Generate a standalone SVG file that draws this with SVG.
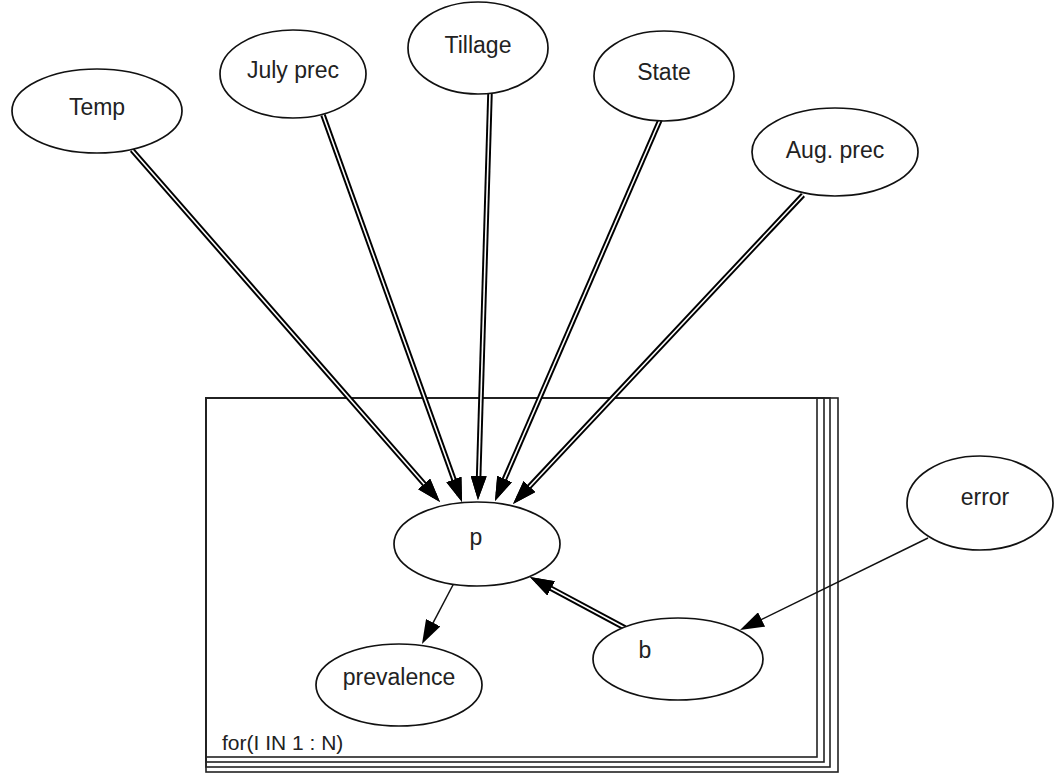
<svg xmlns="http://www.w3.org/2000/svg" width="1063" height="774" viewBox="0 0 1063 774">
<style>
.n ellipse{fill:#fff;stroke:#111;stroke-width:1.7}
text{font-family:"Liberation Sans",Arial,sans-serif;font-size:23px;fill:#222;text-anchor:middle;dominant-baseline:central}
.dbl{stroke:#000;stroke-width:5.5;fill:none}
.inner{stroke:#fff;stroke-width:1.6;fill:none}
.thin{stroke:#111;stroke-width:1.5;fill:none}
.plate{fill:none;stroke:#222;stroke-width:1.6}
</style>
<defs>
<marker id="ah" markerUnits="userSpaceOnUse" viewBox="0 0 24 16" refX="16" refY="8" markerWidth="24" markerHeight="16" orient="auto">
<path d="M0,0 L24,8 L0,16 z" fill="#000"/>
</marker>
</defs>
<rect width="1063" height="774" fill="#fff"/>
<g id="plate">
<rect class="plate" x="206" y="398" width="632" height="374"/>
<rect class="plate" x="206" y="398" width="624" height="369"/>
<rect class="plate" x="206" y="398" width="618" height="364"/>
<rect class="plate" x="206" y="398" width="611" height="359"/>
<text x="222" y="742" style="text-anchor:start;font-size:21px">for(I IN 1 : N)</text>
</g>
<g id="connectors">
<g class="double">
<line class="dbl" x1="132" y1="150" x2="434.7" y2="496" marker-end="url(#ah)"/>
<line class="inner" x1="132" y1="150" x2="434.7" y2="496" marker-end="url(#ah)"/>
<line class="dbl" x1="323" y1="115" x2="459.3" y2="494.5" marker-end="url(#ah)"/>
<line class="inner" x1="323" y1="115" x2="459.3" y2="494.5" marker-end="url(#ah)"/>
<line class="dbl" x1="490" y1="93" x2="478.2" y2="492" marker-end="url(#ah)"/>
<line class="inner" x1="490" y1="93" x2="478.2" y2="492" marker-end="url(#ah)"/>
<line class="dbl" x1="660" y1="120" x2="498.2" y2="493.7" marker-end="url(#ah)"/>
<line class="inner" x1="660" y1="120" x2="498.2" y2="493.7" marker-end="url(#ah)"/>
<line class="dbl" x1="803" y1="195" x2="518.5" y2="498.2" marker-end="url(#ah)"/>
<line class="inner" x1="803" y1="195" x2="518.5" y2="498.2" marker-end="url(#ah)"/>
<line class="dbl" x1="625" y1="628" x2="537" y2="580.8" marker-end="url(#ah)"/>
<line class="inner" x1="625" y1="628" x2="537" y2="580.8" marker-end="url(#ah)"/>
</g>
<line class="thin" x1="454" y1="583" x2="425.7" y2="636.9" marker-end="url(#ah)"/>
<line class="thin" x1="928" y1="538" x2="747.2" y2="626.5" marker-end="url(#ah)"/>
</g>
<g id="temp" class="n"><ellipse cx="97" cy="111" rx="85" ry="42"/><text x="97" y="107">Temp</text></g>
<g id="july" class="n"><ellipse cx="293" cy="74" rx="73" ry="44"/><text x="293" y="70">July prec</text></g>
<g id="tillage" class="n"><ellipse cx="478" cy="48" rx="70" ry="46"/><text x="478" y="45">Tillage</text></g>
<g id="state" class="n"><ellipse cx="664" cy="76" rx="70" ry="45"/><text x="664" y="72">State</text></g>
<g id="aug" class="n"><ellipse cx="835" cy="152" rx="83" ry="44"/><text x="835" y="150">Aug. prec</text></g>
<g id="p" class="n"><ellipse cx="477" cy="544" rx="83" ry="42"/><text x="476" y="537">p</text></g>
<g id="prevalence" class="n"><ellipse cx="399" cy="685" rx="83" ry="41"/><text x="399" y="677">prevalence</text></g>
<g id="b" class="n"><ellipse cx="678" cy="659" rx="85" ry="41"/><text x="645" y="650">b</text></g>
<g id="error" class="n"><ellipse cx="980" cy="503" rx="73" ry="47"/><text x="985" y="497">error</text></g>
</svg>
